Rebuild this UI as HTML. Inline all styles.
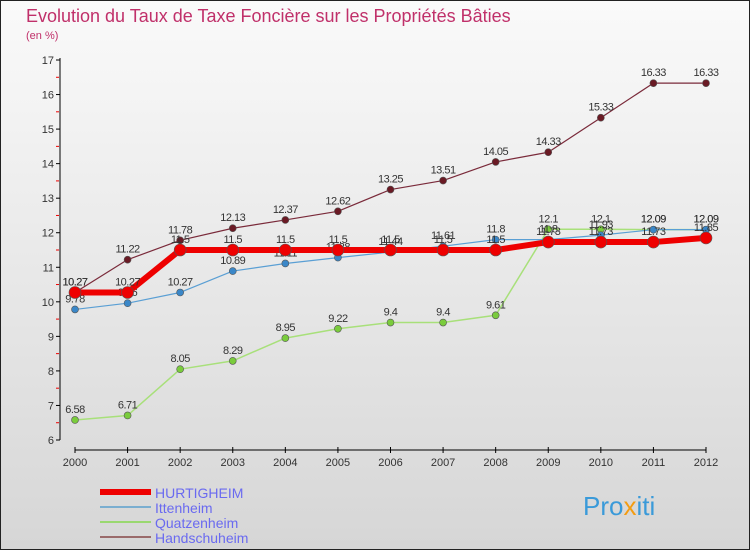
<!DOCTYPE html>
<html><head><meta charset="utf-8"><style>
html,body{margin:0;padding:0}
body{width:750px;height:550px;overflow:hidden;font-family:"Liberation Sans",sans-serif}
</style></head><body>
<svg width="750" height="550" xmlns="http://www.w3.org/2000/svg">
<defs><linearGradient id="bg" x1="0" y1="0" x2="0" y2="1"><stop offset="0" stop-color="#fafafa"/><stop offset="1" stop-color="#d6d6d6"/></linearGradient></defs>
<rect x="0.5" y="0.5" width="749" height="549" fill="url(#bg)" stroke="#222"/>
<text x="26" y="22" font-size="18" fill="#c0306a">Evolution du Taux de Taxe Foncière sur les Propriétés Bâties</text>
<text x="26" y="39" font-size="11" fill="#c0306a">(en %)</text>
<g id="axes"></g><g id="series"></g><g id="legend"></g>
<text x="583" y="515" font-size="26" fill="#3a9ad9">Pro<tspan fill="#f39c12">x</tspan>iti</text>
</svg>
<script>
const years=[2000,2001,2002,2003,2004,2005,2006,2007,2008,2009,2010,2011,2012];
const yTicks=[6,7,8,9,10,11,12,13,14,15,16,17];
const hurtigheim=[10.27,10.27,11.5,11.5,11.5,11.5,11.5,11.5,11.5,11.73,11.73,11.73,11.85];
const ittenheim=[9.78,9.96,10.27,10.89,11.11,11.28,11.44,11.61,11.8,11.8,11.93,12.09,12.09];
const quatzenheim=[6.58,6.71,8.05,8.29,8.95,9.22,9.4,9.4,9.61,12.1,12.1,12.09,12.09];
const handschuheim=[10.27,11.22,11.78,12.13,12.37,12.62,13.25,13.51,14.05,14.33,15.33,16.33,16.33];
const NS="http://www.w3.org/2000/svg";
const xS=i=>75+i*(706-75)/(years.length-1);
const yS=v=>440-(v-6)*(380/11);
function mk(t,a,p){const e=document.createElementNS(NS,t);for(const k in a)e.setAttribute(k,a[k]);p.appendChild(e);return e;}
const ax=document.getElementById('axes');
let l=mk('line',{x1:60,y1:58,x2:60,y2:440,stroke:'#000'},ax);


l=mk('line',{x1:75,y1:450,x2:706,y2:450,stroke:'#000'},ax);


yTicks.forEach(v=>{
 mk('line',{x1:56,y1:yS(v),x2:60,y2:yS(v),stroke:'#000'},ax);
 if(v<17)mk('line',{x1:56,y1:yS(v+0.5),x2:59,y2:yS(v+0.5),stroke:'#e00'},ax);
 const t=mk('text',{x:54,y:yS(v)+4,'font-size':11,'text-anchor':'end',fill:'#333'},ax);t.textContent=v;
 
 
});
years.forEach((y,i)=>{
 mk('line',{x1:xS(i),y1:447,x2:xS(i),y2:453,stroke:'#000'},ax);
 const t=mk('text',{x:xS(i),y:466,'font-size':11,'text-anchor':'middle',fill:'#333'},ax);t.textContent=y;
 
 
});
const sg=document.getElementById('series');
function series(vals,color,w,r,name,dot,labOff){
 const g=mk('g',{},sg);
 
 
 const p=mk('polyline',{points:vals.map((v,i)=>xS(i)+','+yS(v)).join(' '),fill:'none',stroke:color,'stroke-width':w,'stroke-linejoin':'round'},g);
 
 
 vals.forEach((v,i)=>{
  const c=mk('circle',{cx:xS(i),cy:yS(v),r:r,fill:dot,stroke:'#555','stroke-width':0.6},g);
  
  
  const t=mk('text',{x:xS(i),y:yS(v)-labOff,'font-size':11,'text-anchor':'middle',fill:'#333','letter-spacing':'-0.5'},g);
  t.textContent=v;
  
  
 });
}
series(quatzenheim,'#a8e07a',1.5,3.5,'quatzenheim','#7acc3c',7);
series(ittenheim,'#5a9fd4',1.2,3.5,'ittenheim','#3a87c8',7);
series(handschuheim,'#7a2a3a',1.2,3.5,'handschuheim','#6a1a24',7);
series(hurtigheim,'#ee0000',6,6,'hurtigheim','#ee0000',7);
const lg=document.getElementById('legend');
const ln=[['HURTIGHEIM','#ee0000',6],['Ittenheim','#7aaed0',2],['Quatzenheim','#9ad870',2],['Handschuheim','#9a6a6a',2]];
ln.forEach((d,i)=>{
 const y=492+i*15;
 const g=mk('g',{},lg);
 
 
 mk('line',{x1:100,y1:y,x2:151,y2:y,stroke:d[1],'stroke-width':d[2]},g);
 const t=mk('text',{x:155,y:y+6,'font-size':14,fill:'#6a6af0'},g);t.textContent=d[0];
});
</script>
</body></html>
